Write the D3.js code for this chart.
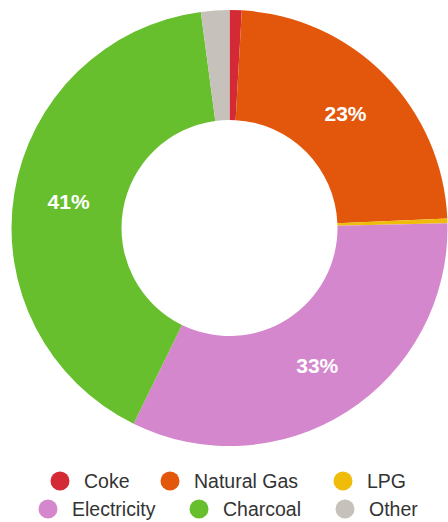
<!DOCTYPE html>
<html><head><meta charset="utf-8">
<script src="https://cdn.jsdelivr.net/npm/d3@7"></script>
<style>html,body{margin:0;padding:0;background:#fff;}svg{display:block;}</style>
</head><body>
<svg id="c" width="448" height="522"></svg>
<script>
const categories = ["Coke", "Natural Gas", "LPG", "Electricity", "Charcoal", "Other"];
const values = [0.9, 23.4, 0.35, 32.6, 40.65, 2.1];
const labels = ["", "23%", "", "33%", "41%", ""];
const colors = ["#d42a36", "#e2570c", "#f0bc0a", "#d487cc", "#68bf2e", "#c6c1ba"];

const svg = d3.select("#c");
const cx = 229.5, cy = 228, R = 218, r = 108;
const g = svg.append("g").attr("transform", `translate(${cx},${cy})`);
const pie = d3.pie().sort(null).value(d => d)(values);
const arc = d3.arc().innerRadius(r).outerRadius(R);
const lab = d3.arc().innerRadius((R + r) / 2).outerRadius((R + r) / 2);
g.selectAll("path").data(pie).join("path")
  .attr("d", arc).attr("fill", (d, i) => colors[i]);
g.selectAll("text").data(pie).join("text")
  .attr("transform", d => `translate(${lab.centroid(d)})`)
  .attr("text-anchor", "middle").attr("dy", "0.36em")
  .attr("fill", "#fff").attr("font-family", "Liberation Sans, Arial, sans-serif")
  .attr("font-weight", "bold").attr("font-size", 21)
  .text((d, i) => labels[i]);

const legendPos = [[60, 481], [170, 481], [343, 481], [48, 509], [199, 509], [345, 509]];
const lg = svg.append("g");
categories.forEach((c, i) => {
  const [x, y] = legendPos[i];
  lg.append("circle").attr("cx", x).attr("cy", y).attr("r", 9.5).attr("fill", colors[i]);
  lg.append("text").attr("x", x + 24).attr("y", y).attr("dy", "0.36em")
    .attr("font-family", "Liberation Sans, Arial, sans-serif").attr("font-size", 19.5)
    .attr("fill", "#333").text(c);
});
</script>
</body></html>
